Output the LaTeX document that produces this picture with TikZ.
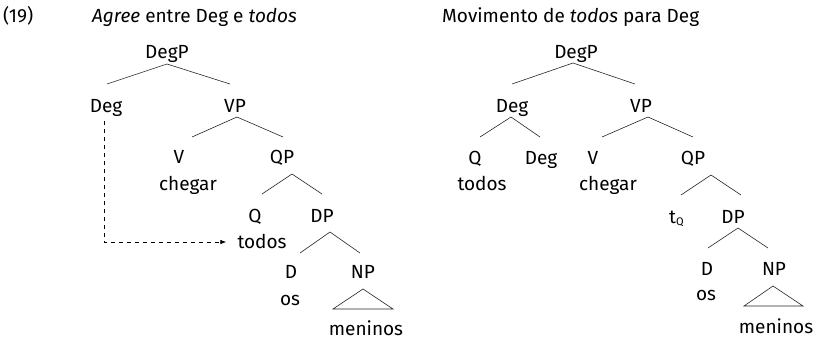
\documentclass[tikz,border=0pt]{standalone}
\usepackage{fontspec}
\setmainfont{Fira Sans}
\usetikzlibrary{calc,arrows.meta}
\begin{document}
\begin{tikzpicture}[x=1pt,y=-1pt,
  lab/.style={inner sep=0pt,anchor=base,font=\fontsize{19}{22}\selectfont},
  ttl/.style={inner sep=0pt,anchor=base west,font=\fontsize{19}{22}\selectfont},
  br/.style={line width=0.6pt,draw=black!85},
  mv/.style={line width=0.7pt,dash pattern=on 4pt off 4pt,-{Latex[length=6pt,width=4.5pt]}}]
\useasboundingbox (0,0) rectangle (818,341);
% titles
\node[ttl] (num) at (3,22) {(19)};
\node[ttl] (titleL) at (92,22) {\textit{Agree} entre Deg e \textit{todos}};
\node[ttl] (titleR) at (442,22) {Movimento de \textit{todos} para Deg};
% left tree
\node[lab] (DegPL) at (167,58) {DegP};
\node[lab] (DegL) at (106,112) {Deg};
\node[lab] (VPL) at (235,112) {VP};
\node[lab] (VL) at (179,163) {V};
\node[lab] (chegarL) at (188,190) {chegar};
\node[lab] (QPL) at (282,163) {QP};
\node[lab] (QL) at (255,222) {Q};
\node[lab] (todosL) at (262,248) {todos};
\node[lab] (DPL) at (322,222) {DP};
\node[lab] (DL) at (291,278) {D};
\node[lab] (osL) at (290,305) {os};
\node[lab] (NPL) at (363,278) {NP};
\node[lab] (meninosL) at (366,335) {meninos};
\draw[br] ($(DegPL.base)+(0,6)$) -- ($(DegL.base)+(1,-28)$);
\draw[br] ($(DegPL.base)+(0,6)$) -- ($(VPL.base)+(-5,-28)$);
\draw[br] ($(VPL.base)+(2,5)$) -- ($(VL.base)+(13,-26)$);
\draw[br] ($(VPL.base)+(2,5)$) -- ($(QPL.base)+(1,-26)$);
\draw[br] ($(QPL.base)+(10,11)$) -- ($(QL.base)+(7,-28)$);
\draw[br] ($(QPL.base)+(10,11)$) -- ($(DPL.base)+(0,-28)$);
\draw[br] ($(DPL.base)+(8,10)$) -- ($(DL.base)+(9,-25)$);
\draw[br] ($(DPL.base)+(8,10)$) -- ($(NPL.base)+(-3,-25)$);
\draw[br] ($(NPL.base)+(0,11)$) -- ($(NPL.base)+(-30,31)$) -- ($(NPL.base)+(30,31)$) -- cycle;
\draw[mv] ($(DegL.base)+(-2,9)$) |- ($(todosL.base west)+(-11,-6)$);
% right tree
\node[lab] (DegPR) at (576,58) {DegP};
\node[lab] (DegR) at (512,112) {Deg};
\node[lab] (VPR) at (641,112) {VP};
\node[lab] (QR) at (475,164) {Q};
\node[lab] (todosR) at (482,190) {todos};
\node[lab] (Deg2R) at (541,164) {Deg};
\node[lab] (VR) at (593,164) {V};
\node[lab] (chegarR) at (608,190) {chegar};
\node[lab] (QPR) at (693,164) {QP};
\node[ttl] (tQ) at (669,223) {t\raisebox{-2.5pt}{\fontsize{11}{12}\selectfont Q}};
\node[lab] (DPR) at (733,223) {DP};
\node[lab] (DR) at (707,275) {D};
\node[lab] (osR) at (706,300) {os};
\node[lab] (NPR) at (774,275) {NP};
\node[lab] (meninosR) at (776,333) {meninos};
\draw[br] ($(DegPR.base)+(-3,5)$) -- ($(DegR.base)+(0,-28)$);
\draw[br] ($(DegPR.base)+(-3,5)$) -- ($(VPR.base)+(-6,-28)$);
\draw[br] ($(DegR.base)+(-1,5)$) -- ($(QR.base)+(5,-27)$);
\draw[br] ($(DegR.base)+(-1,5)$) -- ($(Deg2R.base)+(-1,-27)$);
\draw[br] ($(VPR.base)+(7,5)$) -- ($(VR.base)+(9,-27)$);
\draw[br] ($(VPR.base)+(7,5)$) -- ($(QPR.base)+(0,-27)$);
\draw[br] ($(QPR.base)+(18,11)$) -- ($(tQ.base west)+(12,-28)$);
\draw[br] ($(QPR.base)+(18,11)$) -- ($(DPR.base)+(8,-28)$);
\draw[br] ($(DPR.base)+(5,5)$) -- ($(DR.base)+(1,-27)$);
\draw[br] ($(DPR.base)+(5,5)$) -- ($(NPR.base)+(-6,-27)$);
\draw[br] ($(NPR.base)+(-1,11)$) -- ($(NPR.base)+(-30,31)$) -- ($(NPR.base)+(29,31)$) -- cycle;
\end{tikzpicture}
\end{document}
